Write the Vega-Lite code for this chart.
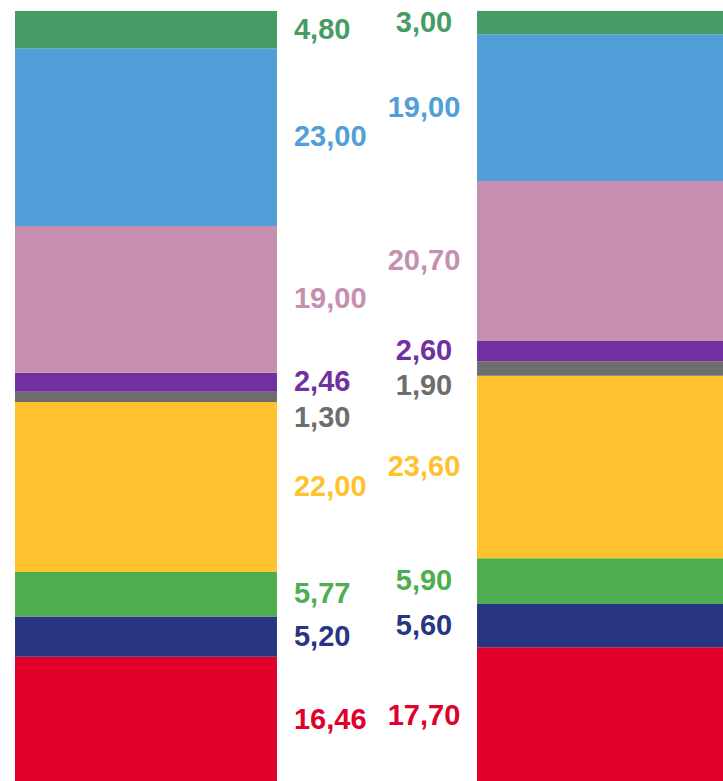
{
  "$schema": "https://vega.github.io/schema/vega-lite/v6.json",
  "width": 724,
  "height": 773,
  "autosize": {"type": "none"},
  "padding": {"left": 15, "top": 11, "right": 0, "bottom": 0},
  "background": "white",
  "config": {
    "view": {"stroke": null},
    "locale": {"number": {"decimal": ",", "thousands": ".", "grouping": [3], "currency": ["", " €"]}}
  },
  "data": {
    "values": [
      {"bar": "A", "cat": "red", "order": 1, "value": 16.46},
      {"bar": "A", "cat": "navy", "order": 2, "value": 5.20},
      {"bar": "A", "cat": "green", "order": 3, "value": 5.77},
      {"bar": "A", "cat": "yellow", "order": 4, "value": 22.00},
      {"bar": "A", "cat": "gray", "order": 5, "value": 1.30},
      {"bar": "A", "cat": "purple", "order": 6, "value": 2.46},
      {"bar": "A", "cat": "pink", "order": 7, "value": 19.00},
      {"bar": "A", "cat": "blue", "order": 8, "value": 23.00},
      {"bar": "A", "cat": "darkgreen", "order": 9, "value": 4.80},
      {"bar": "B", "cat": "red", "order": 1, "value": 17.70},
      {"bar": "B", "cat": "navy", "order": 2, "value": 5.60},
      {"bar": "B", "cat": "green", "order": 3, "value": 5.90},
      {"bar": "B", "cat": "yellow", "order": 4, "value": 23.60},
      {"bar": "B", "cat": "gray", "order": 5, "value": 1.90},
      {"bar": "B", "cat": "purple", "order": 6, "value": 2.60},
      {"bar": "B", "cat": "pink", "order": 7, "value": 20.70},
      {"bar": "B", "cat": "blue", "order": 8, "value": 19.00},
      {"bar": "B", "cat": "darkgreen", "order": 9, "value": 3.00}
    ]
  },
  "transform": [
    {"stack": "value", "groupby": ["bar"], "sort": [{"field": "order", "order": "ascending"}], "as": ["v0", "v1"]},
    {"calculate": "(datum.v0 + datum.v1) / 2", "as": "mid"}
  ],
  "encoding": {
    "x": {"field": "bar", "type": "nominal", "axis": null, "scale": {"domain": ["A", "B"], "paddingInner": 0.433, "paddingOuter": 0}},
    "color": {
      "field": "cat", "type": "nominal", "legend": null,
      "scale": {
        "domain": ["red", "navy", "green", "yellow", "gray", "purple", "pink", "blue", "darkgreen"],
        "range": ["#E1002B", "#283583", "#4EAE4F", "#FFC22F", "#6E6E6E", "#7030A0", "#C68FB0", "#529ED8", "#479B65"]
      }
    }
  },
  "layer": [
    {
      "mark": {"type": "bar", "opacity": 1},
      "encoding": {
        "y": {"field": "v0", "type": "quantitative", "axis": null, "scale": {"domain": [0, 100], "nice": false, "zero": true}},
        "y2": {"field": "v1"}
      }
    },
    {
      "transform": [{"filter": "datum.bar == 'A' && datum.cat != 'gray'"}],
      "mark": {"type": "text", "align": "left", "baseline": "middle", "dx": 148, "font": "Liberation Sans", "fontWeight": "bold", "fontSize": 29},
      "encoding": {
        "y": {"field": "mid", "type": "quantitative"},
        "text": {"field": "value", "type": "quantitative", "format": ".2f"}
      }
    },
    {
      "transform": [{"filter": "datum.bar == 'A' && datum.cat == 'gray'"}],
      "mark": {"type": "text", "align": "left", "baseline": "middle", "dx": 148, "dy": 21, "font": "Liberation Sans", "fontWeight": "bold", "fontSize": 29},
      "encoding": {
        "y": {"field": "mid", "type": "quantitative"},
        "text": {"field": "value", "type": "quantitative", "format": ".2f"}
      }
    },
    {
      "transform": [{"filter": "datum.bar == 'B' && datum.cat != 'gray'"}],
      "mark": {"type": "text", "align": "center", "baseline": "middle", "dx": -184, "font": "Liberation Sans", "fontWeight": "bold", "fontSize": 29},
      "encoding": {
        "y": {"field": "mid", "type": "quantitative"},
        "text": {"field": "value", "type": "quantitative", "format": ".2f"}
      }
    },
    {
      "transform": [{"filter": "datum.bar == 'B' && datum.cat == 'gray'"}],
      "mark": {"type": "text", "align": "center", "baseline": "middle", "dx": -184, "dy": 17, "font": "Liberation Sans", "fontWeight": "bold", "fontSize": 29},
      "encoding": {
        "y": {"field": "mid", "type": "quantitative"},
        "text": {"field": "value", "type": "quantitative", "format": ".2f"}
      }
    }
  ]
}
